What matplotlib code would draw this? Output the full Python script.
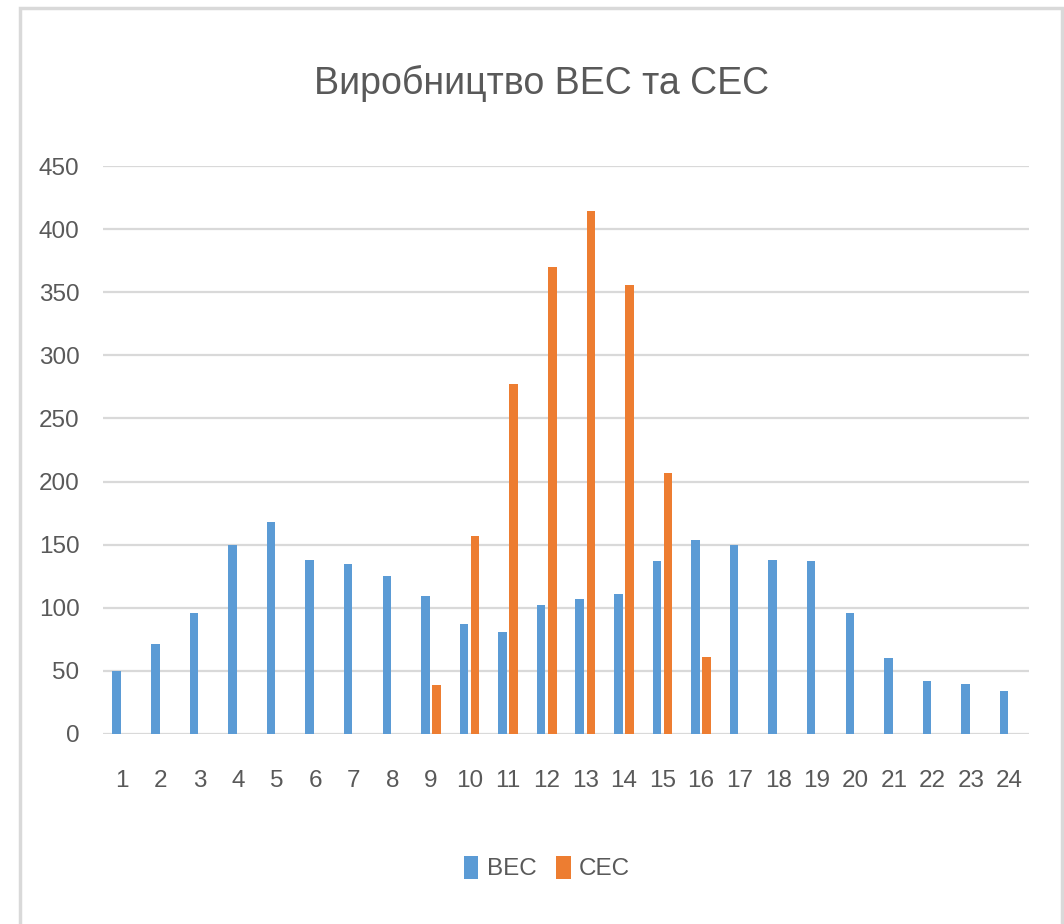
import numpy as np
import matplotlib
matplotlib.use("Agg")
import matplotlib.pyplot as plt
from matplotlib.patches import Rectangle, Patch

hours = [str(h) for h in range(1, 25)]
wind = [50, 71, 96, 150, 168, 138, 135, 125, 109, 87, 81, 102,
        107, 111, 137, 154, 150, 138, 137, 96, 60, 42, 40, 34]
solar = [0, 0, 0, 0, 0, 0, 0, 0, 39, 157, 277, 370,
         414, 356, 207, 61, 0, 0, 0, 0, 0, 0, 0, 0]
series_names = ["ВЕС", "СЕС"]
title = "Виробництво ВЕС та СЕС"
y_ticks = [0, 50, 100, 150, 200, 250, 300, 350, 400, 450]

wind_color = "#5B9BD5"
solar_color = "#ED7D31"
text_color = "#595959"
grid_color = "#D9D9D9"

plt.rcParams["font.family"] = ["Liberation Sans", "DejaVu Sans"]

fig = plt.figure(figsize=(10.64, 9.24), dpi=100)
W, H = 1064, 924

# chart frame (bottom edge runs off the image, as in the screenshot)
fig.patches.append(Rectangle((20 / W, -0.1), (1062 - 20) / W, 1.1 - 8 / H,
                             transform=fig.transFigure, fill=False,
                             edgecolor=grid_color, linewidth=2.5))

ax = fig.add_axes([103 / W, 1 - 734 / H, 926 / W, (734 - 166) / H])

x = np.arange(len(hours))
width = 0.22
offset = 0.145
ax.bar(x - offset, wind, width, color=wind_color, label=series_names[0], zorder=3)
ax.bar(x + offset, solar, width, color=solar_color, label=series_names[1], zorder=3)

ax.set_xlim(-0.5, len(hours) - 0.5)
ax.set_ylim(0, 450)
ax.set_yticks(y_ticks)
ax.set_xticks(x)
ax.set_xticklabels(hours)
ax.grid(axis="y", color=grid_color, linewidth=1.6, zorder=0)
ax.set_axisbelow(True)
for s in ax.spines.values():
    s.set_visible(False)
ax.tick_params(axis="both", length=0, labelsize=17.5, labelcolor=text_color)
ax.tick_params(axis="y", pad=17)
ax.tick_params(axis="x", pad=26)

fig.text(542 / W, 1 - 83 / H, title, ha="center", va="center",
         fontsize=27, color=text_color)

handles = [Patch(facecolor=wind_color, label=series_names[0]),
           Patch(facecolor=solar_color, label=series_names[1])]
fig.legend(handles=handles, loc="center", bbox_to_anchor=(547 / W, 1 - 868 / H),
           ncol=2, frameon=False, fontsize=17.5, labelcolor=text_color,
           handlelength=0.6, handleheight=1.1, handletextpad=0.35,
           columnspacing=0.8)

fig.savefig("out.png", dpi=100)
